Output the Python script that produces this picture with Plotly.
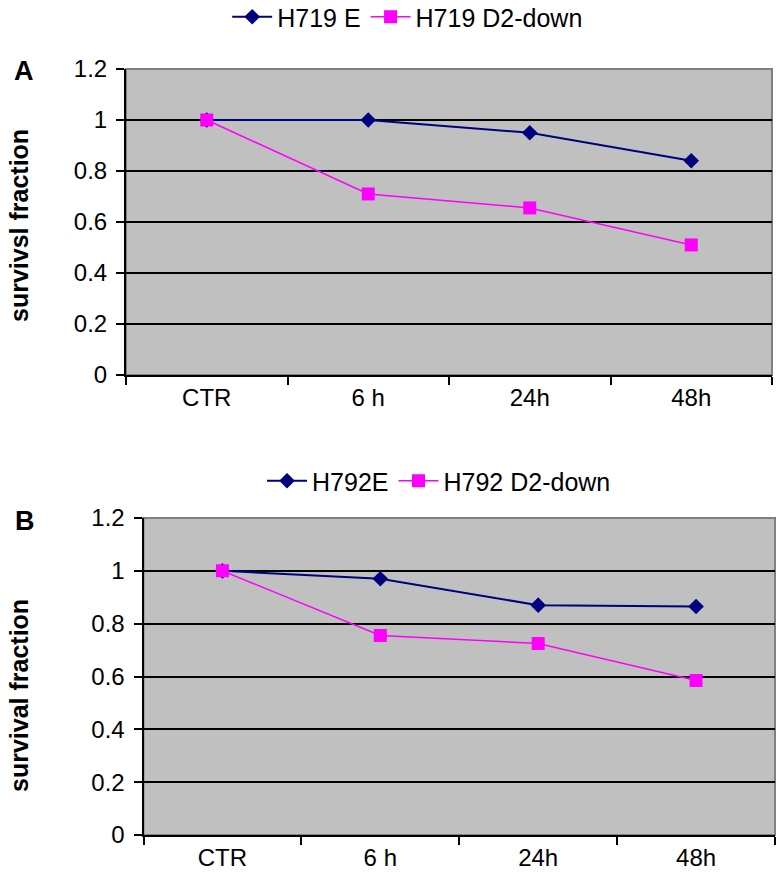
import plotly.graph_objects as go

categories = ["CTR", "6 h", "24h", "48h"]
a_e = [1.0, 1.0, 0.95, 0.84]
a_d2 = [1.0, 0.71, 0.655, 0.51]
b_e = [1.0, 0.97, 0.87, 0.865]
b_d2 = [1.0, 0.755, 0.725, 0.585]
yticks = [0, 0.2, 0.4, 0.6, 0.8, 1, 1.2]
yticklabels = ["0", "0.2", "0.4", "0.6", "0.8", "1", "1.2"]

W, H = 784, 882
NAVY = "#000080"
MAG = "#ff00ff"
FONT = "Liberation Sans, Arial, sans-serif"

fig = go.Figure()

def px_x(p):
    return p / W

def px_y(p):
    return 1 - p / H

# Panel A
fig.add_trace(go.Scatter(x=categories, y=a_e, name="H719 E", mode="lines+markers",
                         line=dict(color=NAVY, width=2),
                         marker=dict(symbol="diamond", size=12, color=NAVY),
                         xaxis="x", yaxis="y", legend="legend"))
fig.add_trace(go.Scatter(x=categories, y=a_d2, name="H719 D2-down", mode="lines+markers",
                         line=dict(color=MAG, width=1.5),
                         marker=dict(symbol="square", size=13, color=MAG),
                         xaxis="x", yaxis="y", legend="legend"))
# Panel B
fig.add_trace(go.Scatter(x=categories, y=b_e, name="H792E", mode="lines+markers",
                         line=dict(color=NAVY, width=2),
                         marker=dict(symbol="diamond", size=12, color=NAVY),
                         xaxis="x2", yaxis="y2", legend="legend2"))
fig.add_trace(go.Scatter(x=categories, y=b_d2, name="H792 D2-down", mode="lines+markers",
                         line=dict(color=MAG, width=1.5),
                         marker=dict(symbol="square", size=13, color=MAG),
                         xaxis="x2", yaxis="y2", legend="legend2"))

axis_font = dict(family=FONT, size=24, color="black")

def xaxis(domain, anchor):
    return dict(domain=domain, anchor=anchor, type="category", showgrid=False,
                showline=True, linecolor="black", linewidth=2,
                ticks="outside", tickson="boundaries", ticklen=8, tickwidth=2,
                tickcolor="black", tickfont=axis_font, fixedrange=True,
                range=[-0.5, 3.5], automargin=False)

def yaxis(domain, anchor):
    return dict(domain=domain, anchor=anchor, range=[0, 1.2], tickvals=yticks,
                ticktext=yticklabels, showgrid=True, gridcolor="black", gridwidth=2,
                showline=True, linecolor="black", linewidth=2, ticks="outside",
                ticklen=8, tickwidth=2, tickcolor="black", tickfont=axis_font,
                zeroline=False, ticklabelstandoff=4, automargin=False)

xa_dom = [px_x(126), px_x(772)]
ya_dom = [px_y(375), px_y(69)]
xb_dom = [px_x(143.5), px_x(775)]
yb_dom = [px_y(835), px_y(518)]

legend_font = dict(family=FONT, size=25, color="black")

fig.update_layout(
    width=W, height=H,
    margin=dict(l=0, r=0, t=0, b=0, autoexpand=False),
    paper_bgcolor="white",
    plot_bgcolor="#c0c0c0",
    font=dict(family=FONT, size=24, color="black"),
    xaxis=xaxis(xa_dom, "y"),
    yaxis=yaxis(ya_dom, "x"),
    xaxis2=xaxis(xb_dom, "y2"),
    yaxis2=yaxis(yb_dom, "x2"),
    legend=dict(orientation="h", x=0.52, xanchor="center", y=px_y(17), yanchor="middle",
                font=legend_font, bgcolor="rgba(0,0,0,0)",
                itemwidth=40, tracegroupgap=0),
    legend2=dict(orientation="h", x=0.56, xanchor="center", y=px_y(481), yanchor="middle",
                 font=legend_font, bgcolor="rgba(0,0,0,0)",
                 itemwidth=40, tracegroupgap=0),
    showlegend=True,
)

# gray frame (top and right border)
for xd, yd in [(xa_dom, ya_dom), (xb_dom, yb_dom)]:
    fig.add_shape(type="rect", xref="paper", yref="paper", x0=xd[0], x1=xd[1],
                  y0=yd[0], y1=yd[1], line=dict(color="#808080", width=2), layer="below")

title_font = dict(family=FONT, size=25, color="black")
fig.add_annotation(text="<b>survivsl fraction</b>", x=px_x(19), y=px_y(226), xref="paper",
                   yref="paper", textangle=-90, showarrow=False, xanchor="center",
                   yanchor="middle", font=title_font)
fig.add_annotation(text="<b>survival fraction</b>", x=px_x(19), y=px_y(696), xref="paper",
                   yref="paper", textangle=-90, showarrow=False, xanchor="center",
                   yanchor="middle", font=title_font)
fig.add_annotation(text="<b>A</b>", x=px_x(24), y=px_y(71), xref="paper", yref="paper",
                   showarrow=False, xanchor="center", yanchor="middle",
                   font=dict(family=FONT, size=27, color="black"))
fig.add_annotation(text="<b>B</b>", x=px_x(24.5), y=px_y(521), xref="paper", yref="paper",
                   showarrow=False, xanchor="center", yanchor="middle",
                   font=dict(family=FONT, size=27, color="black"))

fig.write_html("out.html", config={"displayModeBar": False},
               post_script="document.body.style.margin='0';")
